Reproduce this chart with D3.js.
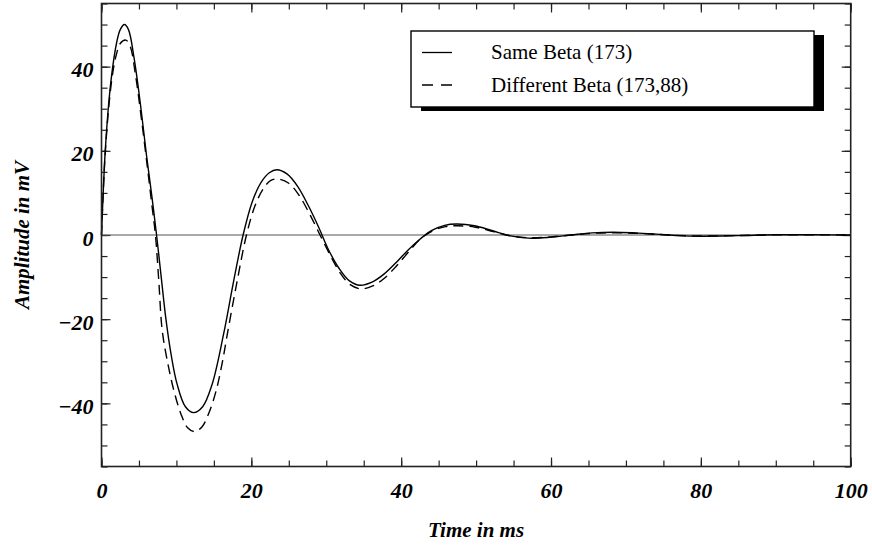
<!DOCTYPE html>
<html>
<head>
<meta charset="utf-8">
<script src="https://cdn.jsdelivr.net/npm/d3@7"></script>
<style>
  body { margin: 0; background: #fff; }
  text { font-family: "Liberation Serif", "Times New Roman", serif; }
</style>
</head>
<body>
<div id="container"></div>
<script>
// values
let sameT = [0, 0.25, 0.5, 1, 1.5, 2, 2.5, 3.07, 3.6, 4.35, 5.2, 6, 6.7, 7.35, 8, 8.6, 9.3, 10.1, 11.2, 12.3,
  13.5, 14.76, 16.3, 17.6, 18.9, 20.1, 21.3, 22.4, 23.4, 24.8, 26.2, 27.6, 29, 30.3, 31.7, 33.1, 34.5,
  36.1, 37.7, 39.3, 40.9, 42.5, 44.1, 45.8, 47.4, 49.8, 52.2, 54.6, 57, 59.8, 62.7, 65.5, 68.3,
  71.2, 74.1, 77, 80, 85, 90, 95, 100];
let sameV = [0, 11, 20, 32, 40, 45.5, 48.8, 50, 48.8, 42, 31, 19, 9.5, 0, -10.5, -20, -28.5, -35.5, -40.8, -42.2,
  -40.8, -35.5, -23.5, -11.3, 0, 7.8, 12.5, 14.8, 15.5, 14.45, 11.5, 7, 1.8, -3.5, -7.9, -10.9, -11.95,
  -11.2, -9.3, -6.6, -3.6, -1, 1.1, 2.3, 2.6, 2.2, 1, -0.2, -0.75, -0.55, 0, 0.5, 0.67,
  0.5, 0.2, -0.15, -0.28, -0.15, 0.05, 0.05, 0];

let diffT = [0, 0.25, 0.5, 1, 1.5, 2, 2.5, 3.24, 3.8, 4.5, 5.3, 6.1, 6.7, 7.2, 7.65, 8.1, 8.85, 9.64, 10.6, 11.5, 12.4,
  13.4, 14.4, 15.33, 16.1, 16.85, 18.1, 19.35, 20.5, 21.6, 22.6, 23.6, 25, 26.35, 27.7, 29.1, 30.5, 31.85, 33.2, 34.6,
  36.2, 37.8, 39.4, 41, 42.6, 44.2, 45.9, 47.5, 49.9, 52.3, 54.7, 57.2, 60, 62.8, 65.6, 68.5,
  71.3, 74.2, 77.1, 80, 85, 90, 95, 100];
let diffV = [0, 11, 19.5, 31, 38.5, 43, 45.5, 46.3, 45, 38.5, 28, 16.5, 7.5, 0, -11, -22.6, -30.5, -36.8, -42.5, -45.8, -46.7,
  -45.6, -42, -36.8, -30.5, -23, -11, 0, 7, 11, 13, 13.3, 12.3, 9.5, 5.25, 0.25, -4.7, -9, -11.8, -12.8,
  -12.1, -10.2, -7.3, -4, -0.9, 1, 2, 2.2, 1.85, 0.8, -0.25, -0.65, -0.45, 0, 0.4, 0.55,
  0.42, 0.15, -0.12, -0.24, -0.13, 0.04, 0.04, 0];

let xMajor = [0, 20, 40, 60, 80, 100];
let yMajor = [-40, -20, 0, 20, 40];
let seriesNames = ["Same Beta (173)", "Different Beta (173,88)"];

let w = 872;
let h = 550;
let pLeft = 101.5, pRight = 850.7, pTop = 3.5, pBottom = 466.5;

let viz = d3.select("#container")
  .append("svg")
    .attr("width", w)
    .attr("height", h);

let xScale = d3.scaleLinear().domain([0, 100]).range([pLeft, pRight]);
let yScale = d3.scaleLinear().domain([-55, 55]).range([pBottom, pTop]);

let xMinor = d3.range(0, 101, 5);
let yMinor = d3.range(-55, 56, 5);

// ticks pointing inward on all four sides
function tickAxis(axis, scale, vals, len, tx, ty) {
  let g = viz.append("g")
    .attr("transform", "translate(" + tx + "," + ty + ")")
    .call(axis(scale).tickValues(vals).tickSizeInner(-len).tickSizeOuter(0).tickFormat(""));
  g.select(".domain").remove();
  g.selectAll("line").attr("stroke", "#222").attr("stroke-width", 1.2);
  return g;
}
tickAxis(d3.axisBottom, xScale, xMinor, 6, 0, pBottom);
tickAxis(d3.axisTop, xScale, xMinor, 6, 0, pTop);
tickAxis(d3.axisLeft, yScale, yMinor, 6, pLeft, 0);
tickAxis(d3.axisRight, yScale, yMinor, 6, pRight, 0);
tickAxis(d3.axisTop, xScale, xMajor, 9, 0, pTop);
tickAxis(d3.axisRight, yScale, yMajor, 9, pRight, 0);

// major ticks with labels
let xAxisGroup = viz.append("g")
  .attr("transform", "translate(0," + pBottom + ")")
  .call(d3.axisBottom(xScale).tickValues(xMajor).tickSizeInner(-9).tickSizeOuter(0));
xAxisGroup.select(".domain").remove();
xAxisGroup.selectAll("line").attr("stroke", "#222").attr("stroke-width", 1.2);
xAxisGroup.selectAll("text")
  .attr("y", 31.5)
  .attr("dy", null)
  .attr("fill", "black")
  .attr("font-size", 22)
  .attr("font-weight", "bold")
  .attr("font-style", "italic")
  .style("font-family", "'Liberation Serif', serif");

let yAxisGroup = viz.append("g")
  .attr("transform", "translate(" + pLeft + ",0)")
  .call(d3.axisLeft(yScale).tickValues(yMajor).tickSizeInner(-9).tickSizeOuter(0));
yAxisGroup.select(".domain").remove();
yAxisGroup.selectAll("line").attr("stroke", "#222").attr("stroke-width", 1.2);
yAxisGroup.selectAll("text")
  .attr("x", -8)
  .attr("dy", null)
  .attr("y", 10)
  .attr("fill", "black")
  .attr("font-size", 22)
  .attr("font-weight", "bold")
  .attr("font-style", "italic")
  .style("font-family", "'Liberation Serif', serif");

// zero line
viz.append("line")
  .attr("x1", xScale(0)).attr("x2", xScale(100))
  .attr("y1", yScale(0)).attr("y2", yScale(0))
  .attr("stroke", "#555")
  .attr("stroke-width", 1);

// curves
let line = d3.line()
  .x(function(d){ return xScale(d[0]); })
  .y(function(d){ return yScale(d[1]); })
  .curve(d3.curveCatmullRom.alpha(0.5));

viz.append("path")
  .datum(sameT.map(function(t, i){ return [t, sameV[i]]; }))
  .attr("d", line)
  .attr("fill", "none")
  .attr("stroke", "black")
  .attr("stroke-width", 1.4);

viz.append("path")
  .datum(diffT.map(function(t, i){ return [t, diffV[i]]; }))
  .attr("d", line)
  .attr("fill", "none")
  .attr("stroke", "black")
  .attr("stroke-width", 1.4)
  .attr("stroke-dasharray", "10,6");

// frame
viz.append("rect")
  .attr("x", pLeft).attr("y", pTop)
  .attr("width", pRight - pLeft).attr("height", pBottom - pTop)
  .attr("fill", "none")
  .attr("stroke", "#222")
  .attr("stroke-width", 1.6);

// legend with drop shadow
let lx = 411, ly = 31, lw = 403, lh = 76;
viz.append("rect")
  .attr("x", lx + 10).attr("y", ly + 4)
  .attr("width", lw).attr("height", lh)
  .attr("fill", "black");
viz.append("rect")
  .attr("x", lx).attr("y", ly)
  .attr("width", lw).attr("height", lh)
  .attr("fill", "white")
  .attr("stroke", "black")
  .attr("stroke-width", 1.4);

let dashes = [null, "11,8"];
for (let i = 0; i < 2; i++) {
  viz.append("line")
    .attr("x1", 422).attr("x2", 452)
    .attr("y1", 52.5 + i * 32.5).attr("y2", 52.5 + i * 32.5)
    .attr("stroke", "black")
    .attr("stroke-width", 1.3)
    .attr("stroke-dasharray", dashes[i]);
  viz.append("text")
    .text(seriesNames[i])
    .attr("x", 491)
    .attr("y", 59 + i * 32.5)
    .attr("font-size", 21)
    .attr("fill", "black");
}

// axis titles
viz.append("text")
  .text("Time in ms")
  .attr("x", (pLeft + pRight) / 2)
  .attr("y", 537)
  .attr("text-anchor", "middle")
  .attr("font-size", 21)
  .attr("font-weight", "bold")
  .attr("font-style", "italic");

viz.append("text")
  .text("Amplitude in mV")
  .attr("transform", "translate(29," + yScale(0) + ") rotate(-90)")
  .attr("text-anchor", "middle")
  .attr("font-size", 21)
  .attr("font-weight", "bold")
  .attr("font-style", "italic");
</script>
</body>
</html>
